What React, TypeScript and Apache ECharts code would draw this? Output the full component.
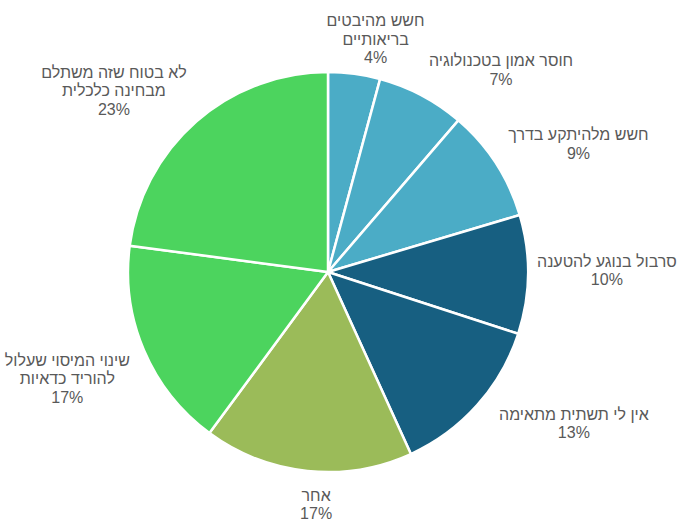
import React, { useEffect, useRef } from "react";
import * as echarts from "echarts";

const categories = [
  "חשש מהיבטים\nבריאותיים",
  "חוסר אמון בטכנולוגיה",
  "חשש מלהיתקע בדרך",
  "סרבול בנוגע להטענה",
  "אין לי תשתית מתאימה",
  "אחר",
  "שינוי המיסוי שעלול\nלהוריד כדאיות",
  "לא בטוח שזה משתלם\nמבחינה כלכלית",
];
const values = [4.2, 7.1, 9.1, 9.6, 13.2, 16.9, 17.0, 22.9];
const colors = ["#4BACC6", "#4BACC6", "#4BACC6", "#175F81", "#175F81", "#9BBB59", "#4CD45E", "#4CD45E"];
const labelNudge = [
  [16, 5],
  [64, 4],
  [44, 6],
  [-3, -5],
  [67, -8],
  [12, 3],
  [-3, -3],
  [-50, 6],
];

const CX = 328;
const CY = 272;
const R = 200;
const GAP = 12;

export default function App() {
  const ref = useRef<HTMLDivElement>(null);
  useEffect(() => {
    if (!ref.current) return;
    const chart = echarts.init(ref.current, undefined, { renderer: "svg" });
    const total = values.reduce((a, b) => a + b, 0);
    const cum: number[] = [];
    let acc = 0;
    values.forEach((v) => {
      cum.push(acc);
      acc += v;
    });
    chart.setOption({
      animation: false,
      backgroundColor: "#ffffff",
      series: [
        {
          type: "pie",
          center: [CX, CY],
          radius: [0, R],
          startAngle: 90,
          clockwise: true,
          avoidLabelOverlap: false,
          itemStyle: { borderColor: "#ffffff", borderWidth: 2.5 },
          label: {
            show: true,
            position: "outside",
            color: "#595959",
            fontFamily: "Liberation Sans, Arial, sans-serif",
            fontSize: 16,
            lineHeight: 18.5,
            formatter: (p: any) => `${p.name}\n${Math.round(p.percent)}%`,
          },
          labelLine: { show: false },
          labelLayout: (p: any) => {
            const i = p.dataIndex;
            const mid = ((cum[i] + values[i] / 2) / total) * Math.PI * 2;
            const s = Math.sin(mid);
            const c = Math.cos(mid);
            const w = p.labelRect.width;
            const h = p.labelRect.height;
            const ex = Math.abs(s) > 1e-6 ? w / 2 / Math.abs(s) : Infinity;
            const ey = Math.abs(c) > 1e-6 ? h / 2 / Math.abs(c) : Infinity;
            const d = R + GAP + Math.min(ex, ey);
            return {
              x: CX + d * s + labelNudge[i][0],
              y: CY - d * c + labelNudge[i][1],
              align: "center",
              verticalAlign: "middle",
            };
          },
          data: categories.map((name, i) => ({
            name,
            value: values[i],
            itemStyle: { color: colors[i] },
          })),
        },
      ],
    });
    return () => chart.dispose();
  }, []);
  return (
    <div
      ref={ref}
      style={{ position: "fixed", left: 0, top: 0, width: 678, height: 521 }}
    />
  );
}
